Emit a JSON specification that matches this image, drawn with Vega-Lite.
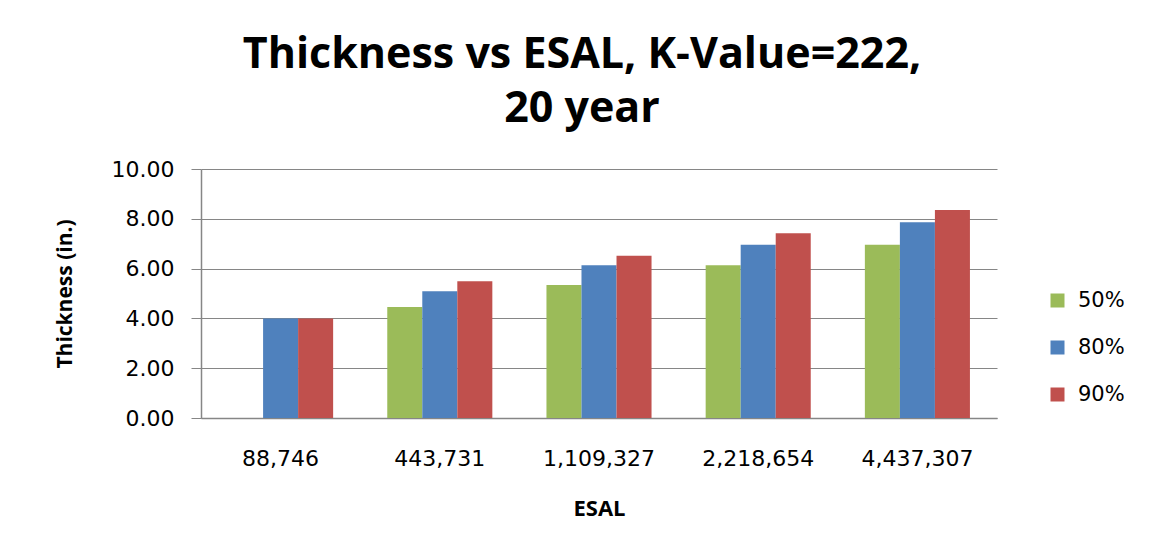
{
  "$schema": "https://vega.github.io/schema/vega-lite/v6.json",
  "autosize": "none",
  "width": 796,
  "height": 249,
  "padding": {"left": 201, "top": 169, "right": 154, "bottom": 134},
  "background": "white",
  "title": {
    "text": ["Thickness vs ESAL, K-Value=222,", "20 year"],
    "font": "Open Sans",
    "fontSize": 43,
    "fontWeight": "bold",
    "lineHeight": 54,
    "color": "#000000",
    "anchor": "middle",
    "frame": "group",
    "dx": -17,
    "offset": 27
  },
  "data": {
    "values": [
      {"ESAL": "88,746", "Reliability": "50%", "Thickness": 0},
      {"ESAL": "88,746", "Reliability": "80%", "Thickness": 4.0},
      {"ESAL": "88,746", "Reliability": "90%", "Thickness": 4.0},
      {"ESAL": "443,731", "Reliability": "50%", "Thickness": 4.46},
      {"ESAL": "443,731", "Reliability": "80%", "Thickness": 5.09},
      {"ESAL": "443,731", "Reliability": "90%", "Thickness": 5.49},
      {"ESAL": "1,109,327", "Reliability": "50%", "Thickness": 5.34},
      {"ESAL": "1,109,327", "Reliability": "80%", "Thickness": 6.13},
      {"ESAL": "1,109,327", "Reliability": "90%", "Thickness": 6.52},
      {"ESAL": "2,218,654", "Reliability": "50%", "Thickness": 6.13},
      {"ESAL": "2,218,654", "Reliability": "80%", "Thickness": 6.96},
      {"ESAL": "2,218,654", "Reliability": "90%", "Thickness": 7.42},
      {"ESAL": "4,437,307", "Reliability": "50%", "Thickness": 6.96},
      {"ESAL": "4,437,307", "Reliability": "80%", "Thickness": 7.86},
      {"ESAL": "4,437,307", "Reliability": "90%", "Thickness": 8.35}
    ]
  },
  "mark": {"type": "bar"},
  "encoding": {
    "x": {
      "field": "ESAL",
      "type": "nominal",
      "sort": ["88,746", "443,731", "1,109,327", "2,218,654", "4,437,307"],
      "scale": {"paddingInner": 0.34, "paddingOuter": 0.17},
      "axis": {
        "title": "ESAL",
        "titleFont": "Open Sans",
        "titleFontSize": 22,
        "titleFontWeight": "bold",
        "titleColor": "#000000",
        "titlePadding": 29,
        "labelFont": "DejaVu Sans",
        "labelFontSize": 22,
        "labelColor": "#000000",
        "labelAngle": 0,
        "labelPadding": 30,
        "ticks": false,
        "domainColor": "#868686",
        "domainWidth": 1.5,
        "grid": false
      }
    },
    "xOffset": {
      "field": "Reliability",
      "type": "nominal",
      "sort": ["50%", "80%", "90%"],
      "scale": {"paddingInner": 0, "paddingOuter": 0}
    },
    "y": {
      "field": "Thickness",
      "type": "quantitative",
      "scale": {"domain": [0, 10], "nice": false},
      "axis": {
        "title": "Thickness (in.)",
        "titleFont": "Open Sans",
        "titleFontSize": 21,
        "titleFontWeight": "bold",
        "titleColor": "#000000",
        "titlePadding": 36,
        "values": [0, 2, 4, 6, 8, 10],
        "format": ".2f",
        "labelFont": "DejaVu Sans",
        "labelFontSize": 22,
        "labelColor": "#000000",
        "labelPadding": 17,
        "tickSize": 10,
        "tickColor": "#868686",
        "domainColor": "#868686",
        "domainWidth": 1.5,
        "gridColor": "#868686",
        "gridWidth": 1
      }
    },
    "color": {
      "field": "Reliability",
      "type": "nominal",
      "sort": ["50%", "80%", "90%"],
      "scale": {"domain": ["50%", "80%", "90%"], "range": ["#9BBB59", "#4F81BD", "#C0504D"]},
      "legend": {
        "title": null,
        "orient": "none",
        "legendX": 846,
        "legendY": 121,
        "symbolType": "square",
        "symbolSize": 196,
        "symbolStrokeWidth": 0,
        "labelFont": "DejaVu Sans",
        "labelFontSize": 21,
        "labelColor": "#000000",
        "labelOffset": 10,
        "rowPadding": 25
      }
    }
  },
  "config": {"view": {"stroke": null}}
}
